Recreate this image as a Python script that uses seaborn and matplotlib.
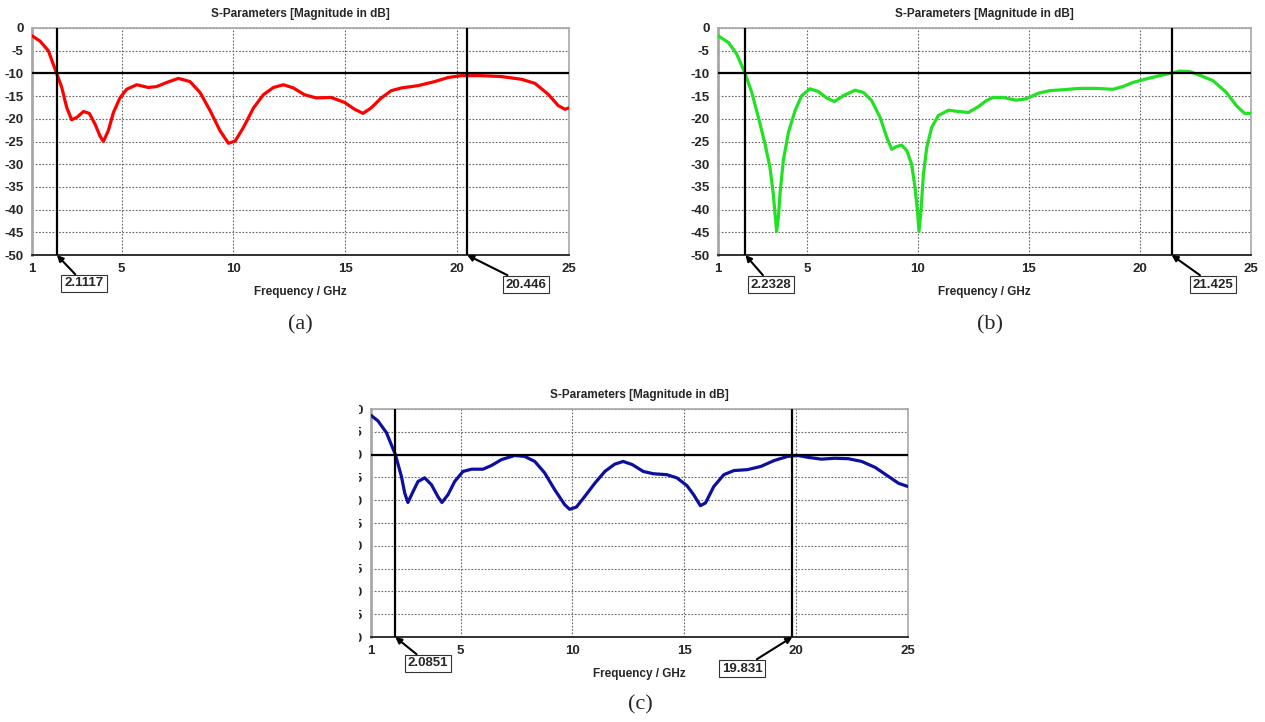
import numpy as np
import pandas as pd
import seaborn as sns
import matplotlib.pyplot as plt
from matplotlib.patches import Rectangle

# --- data (frequency in GHz, S11 in dB) ---
freq_a = [1, 1.36, 1.73, 2.1, 2.33, 2.55, 2.77, 3.0, 3.3, 3.56, 3.82, 4.04, 4.19, 4.41, 4.64,
          4.93, 5.23, 5.68, 6.2, 6.57, 7.02, 7.54, 8.06, 8.51, 8.96, 9.4, 9.78, 10.08, 10.45,
          10.9, 11.34, 11.79, 12.24, 12.68, 13.18, 13.7, 14.37, 14.97, 15.42, 15.79, 16.16,
          16.61, 17.06, 17.51, 18.25, 19.0, 19.6, 20.19, 21.09, 21.99, 22.88, 23.48, 24.07,
          24.52, 24.82, 25]
s11_a = [-1.7, -2.9, -5.0, -10.0, -13.1, -17.5, -20.2, -19.7, -18.4, -18.8, -21.2, -23.8, -25.0, -22.6, -18.6,
         -15.4, -13.5, -12.5, -13.1, -12.9, -12.0, -11.1, -11.8, -14.2, -18.2, -22.6, -25.4, -24.9, -21.9,
         -17.6, -14.7, -13.1, -12.5, -13.2, -14.7, -15.4, -15.3, -16.4, -17.9, -18.8, -17.6,
         -15.4, -13.8, -13.2, -12.7, -11.8, -10.9, -10.5, -10.5, -10.7, -11.3, -12.2, -14.6,
         -17.1, -17.9, -17.6]

freq_b = [1, 1.47, 1.84, 2.22, 2.52, 2.82, 3.12, 3.34, 3.49, 3.57, 3.64, 3.72, 3.79, 3.94, 4.17,
          4.47, 4.77, 5.14, 5.52, 5.89, 6.24, 6.65, 7.17, 7.55, 7.92, 8.3, 8.6, 8.82, 9.05, 9.27,
          9.5, 9.72, 9.87, 9.98, 10.05, 10.14, 10.25, 10.4, 10.62, 10.92, 11.38, 11.83, 12.28,
          12.73, 13.08, 13.38, 13.83, 14.43, 14.88, 15.41, 15.93, 16.53, 17.28, 18.03, 18.78,
          19.23, 19.68, 20.29, 20.89, 21.34, 21.79, 22.24, 22.69, 23.29, 23.89, 24.34, 24.71, 25]
s11_b = [-1.7, -3.2, -5.7, -10.0, -14.2, -19.7, -25.6, -30.7, -36.6, -41.0, -44.8, -41.7, -36.6, -29.2, -23.0,
         -18.2, -14.9, -13.4, -14.0, -15.4, -16.2, -14.9, -13.7, -14.2, -16.0, -19.7, -24.1, -26.7, -26.1, -25.8,
         -27.0, -30.0, -35.1, -40.2, -44.8, -40.2, -32.2, -26.3, -21.9, -19.3, -18.1, -18.4, -18.6,
         -17.3, -16.0, -15.3, -15.3, -15.9, -15.6, -14.4, -13.8, -13.6, -13.3, -13.3, -13.5,
         -12.9, -12.0, -11.2, -10.5, -10.0, -9.5, -9.6, -10.4, -11.6, -14.2, -17.1, -18.8, -18.8]

freq_c = [1, 1.31, 1.69, 2.09, 2.36, 2.51, 2.65, 2.88, 3.1, 3.4, 3.7, 4.0, 4.17, 4.44, 4.74,
          5.11, 5.49, 6.0, 6.38, 6.83, 7.42, 7.87, 8.32, 8.76, 9.21, 9.66, 9.88, 10.18, 10.55,
          11.0, 11.45, 11.89, 12.27, 12.68, 13.17, 13.62, 14.22, 14.67, 15.12, 15.42, 15.72,
          15.95, 16.32, 16.77, 17.22, 17.82, 18.42, 19.02, 19.62, 20.08, 20.53, 21.13, 21.73,
          22.33, 22.93, 23.53, 24.13, 24.58, 25]
s11_c = [-1.4, -2.6, -5.2, -10.0, -14.8, -18.5, -20.5, -18.1, -15.9, -15.1, -16.6, -19.3, -20.5, -18.8, -15.9,
         -13.7, -13.2, -13.2, -12.4, -11.1, -10.2, -10.4, -11.5, -14.0, -17.7, -21.0, -22.0, -21.5, -19.2,
         -16.3, -13.7, -12.1, -11.5, -12.2, -13.7, -14.2, -14.4, -15.1, -16.8, -18.8, -21.2,
         -20.6, -17.0, -14.4, -13.5, -13.3, -12.6, -11.3, -10.4, -10.2, -10.6, -11.0, -10.8,
         -10.9, -11.5, -12.8, -14.8, -16.3, -17.0]

markers_a = [2.1117, 20.446]
markers_b = [2.2328, 21.425]
markers_c = [2.0851, 19.831]
x_ticks = [1, 5, 10, 15, 20, 25]
y_ticks = list(range(0, -55, -5))

sns.set_style("white")
plt.rcParams['font.family'] = ['Liberation Sans', 'DejaVu Sans']
plt.rcParams['axes.unicode_minus'] = False

fig = plt.figure(figsize=(12.65, 7.22), dpi=100)
W, H = 1265, 722


def px_axes(l, t, r, b):
    return fig.add_axes([l / W, 1 - b / H, (r - l) / W, (b - t) / H])


def sparam_panel(ax, freq, s11, color, marks, boxes):
    df = pd.DataFrame({'f': freq, 's11': s11})
    sns.lineplot(data=df, x='f', y='s11', ax=ax, color=color, linewidth=2.3,
                 estimator=None, sort=False, zorder=3)
    ax.set_xlim(1, 25)
    ax.set_ylim(-50, 0)
    ax.set_xticks(x_ticks)
    ax.set_yticks(y_ticks)
    ax.tick_params(length=0, labelsize=9.5, pad=6)
    for lab in ax.get_xticklabels() + ax.get_yticklabels():
        lab.set_fontweight('bold')
    ax.grid(True, color='#666666', linestyle=(0, (1.5, 1.5)), linewidth=0.8)
    for s in ['top', 'right', 'left']:
        ax.spines[s].set_color('#a8a8a8')
        ax.spines[s].set_linewidth(1.2)
    ax.spines['left'].set_linewidth(2)
    ax.spines['bottom'].set_color('#222222')
    ax.spines['bottom'].set_linewidth(1.3)
    ax.axhline(-10, color='black', linewidth=1.6, zorder=4)
    for m in marks:
        ax.axvline(m, color='black', linewidth=1.6, zorder=4)
    ax.set_title('S-Parameters [Magnitude in dB]', fontsize=8.5, fontweight='bold', pad=8)
    ax.set_xlabel('Frequency / GHz', fontsize=8.5, fontweight='bold', labelpad=8)
    ax.set_ylabel('')
    for m, (bx, by) in zip(marks, boxes):
        ax.annotate(f'{m:g}', xy=(m, -50), xycoords='data',
                    xytext=(bx, by), textcoords='figure pixels',
                    ha='center', va='center_baseline', fontsize=9.5, fontweight='bold',
                    bbox=dict(boxstyle='square,pad=0.22', fc='white', ec='#333333', lw=0.8),
                    arrowprops=dict(arrowstyle='-|>', color='black', lw=1.5,
                                    mutation_scale=9, shrinkA=0, shrinkB=0),
                    annotation_clip=False, zorder=6)


ax_a = px_axes(32, 28, 569, 255)
sparam_panel(ax_a, freq_a, s11_a, '#ff0000', markers_a, [(84, H - 282), (526, H - 283)])
ax_b = px_axes(718, 28, 1251, 255)
sparam_panel(ax_b, freq_b, s11_b, '#22e022', markers_b, [(771, H - 283), (1213, H - 283)])
ax_c = px_axes(371, 409, 908, 637)
sparam_panel(ax_c, freq_c, s11_c, '#0c109c', markers_c, [(428, H - 662), (742, H - 667)])

# panel (c) y labels are cut off in the original
fig.add_artist(Rectangle((300 / W, (H - 645) / H), 59 / W, 250 / H, transform=fig.transFigure,
                         facecolor='white', edgecolor='none', zorder=10))

for lab, (x, y) in zip(['(a)', '(b)', '(c)'], [(300, 325), (990, 325), (640, 705)]):
    fig.text(x / W, 1 - y / H, lab, ha='center', va='center', fontsize=16,
             family=['Liberation Serif', 'DejaVu Serif'])

fig.savefig('out.png', dpi=100)
